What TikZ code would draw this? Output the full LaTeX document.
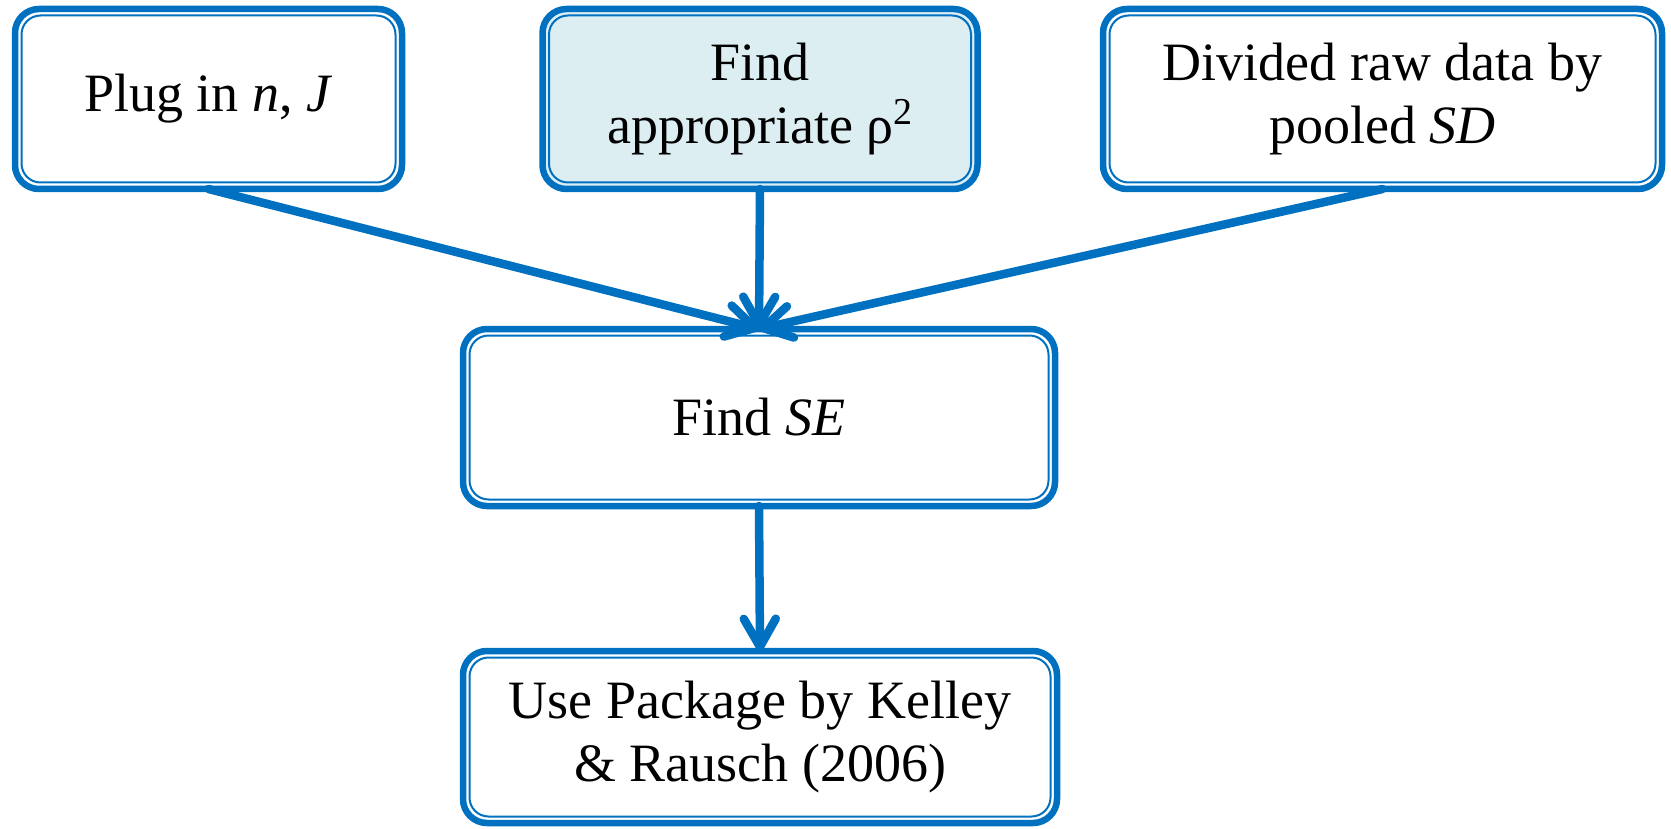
\documentclass[tikz,border=0pt]{standalone}
\usepackage{fontspec}
\setmainfont{Liberation Serif}
\usetikzlibrary{arrows.meta}
\definecolor{bblue}{HTML}{0070C0}
\definecolor{lfill}{HTML}{DDEEF3}
\begin{document}
\begin{tikzpicture}[x=1pt,y=-1pt,
  box/.style={draw=bblue, line width=6.5pt, rounded corners=24pt, fill=white, align=center,
    font=\fontsize{54}{63}\selectfont, inner sep=0pt, outer sep=0pt},
  inner/.style={draw=bblue, line width=2pt, rounded corners=19pt},
  conn/.style={draw=bblue, line width=8.5pt, line cap=round, -{Straight Barb[length=28pt,width=32pt,round]}}
]
\useasboundingbox (0,0) rectangle (1671,829);
\node[box, minimum width=387pt, minimum height=180pt] (plug) at (208.5,99) {Plug in \textit{n}, \textit{J}};
\node[box, fill=lfill, minimum width=435pt, minimum height=180pt] (rho) at (760,99) {Find\\appropriate ρ\raisebox{0.36em}{\fontsize{38}{38}\selectfont 2}};
\node[box, minimum width=559pt, minimum height=180pt] (div) at (1382.5,99) {Divided raw data by\\pooled \textit{SD}};
\node[box, minimum width=592pt, minimum height=177pt] (se) at (759,417.5) {Find \textit{SE}};
\node[box, minimum width=594pt, minimum height=172pt] (pkg) at (760,737) {Use Package by Kelley\\\& Rausch (2006)};
\foreach \n in {plug,rho,div,se,pkg}{
  \draw[inner] ([shift={(6.5,6.5)}]\n.north west) rectangle ([shift={(-6.5,-6.5)}]\n.south east);
}
\draw[conn] (plug.south) -- (se.north);
\draw[conn] (rho.south) -- (se.north);
\draw[conn] (div.south) -- (se.north);
\draw[conn] (se.south) -- (pkg.north);
\end{tikzpicture}
\end{document}
